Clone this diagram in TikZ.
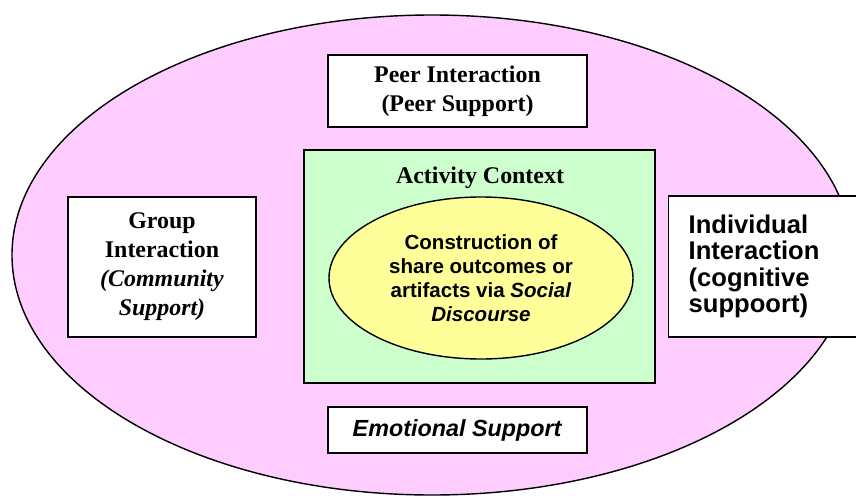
\documentclass[tikz,border=0pt]{standalone}
\usepackage{fontspec}
\setmainfont{Liberation Serif}
\setsansfont{Liberation Sans}
\usetikzlibrary{shapes.geometric}
\definecolor{rosa}{HTML}{FFCCFF}
\definecolor{hellgruen}{HTML}{CCFFCC}
\definecolor{hellgelb}{HTML}{FFFF99}
\begin{document}
\begin{tikzpicture}[line width=1pt,
      kasten/.style={draw,fill=white,rectangle,align=center},
      serif/.style={font=\fontsize{17}{20.6}\selectfont\bfseries},
      sans/.style={font=\fontsize{16.6}{19}\selectfont\sffamily\bfseries}]
    \useasboundingbox (0,0) rectangle (21.4,12.375);
    % outer support ellipse
    \node[draw,fill=rosa,ellipse,minimum width=21cm,minimum height=12cm] at (10.8,6) (umfeld) {};
    % activity context with the discourse in the middle
    \node[draw,fill=hellgruen,rectangle,minimum width=8.775cm,minimum height=5.825cm] at (11.9875,5.7125) (kontext) {};
    \node[serif] at (12,7.925) (titel) {Activity Context};
    \node[draw,fill=hellgelb,ellipse,minimum width=7.6cm,minimum height=4.05cm,
          align=center,font=\fontsize{14.6}{17}\selectfont\sffamily\bfseries] at (12.025,5.425) (diskurs)
          {Construction of\\share outcomes or\\artifacts via \textit{Social}\\\textit{Discourse}};
    % the four kinds of interaction around it
    \node[kasten,serif,minimum width=6.475cm,minimum height=1.8cm] at (11.4375,10.1) (peer)
          {Peer Interaction\\(Peer Support)};
    \node[kasten,serif,minimum width=4.7cm,minimum height=3.5cm] at (4.05,5.7) (gruppe)
          {Group\\Interaction\\\textit{(Community}\\\textit{Support)}};
    \node[kasten,anchor=west,minimum width=5cm,minimum height=3.525cm,text width=4cm,inner xsep=0.5cm,
          align=left,font=\fontsize{18.2}{18.8}\selectfont\sffamily\bfseries] at (16.7,5.7125) (einzeln)
          {Individual\\Interaction\\(cognitive\\suppoort)};
    \node[kasten,sans,minimum width=6.475cm,minimum height=1.15cm] at (11.4375,1.625) (emotion)
          {\textit{Emotional Support}};
  \end{tikzpicture}
\end{document}
